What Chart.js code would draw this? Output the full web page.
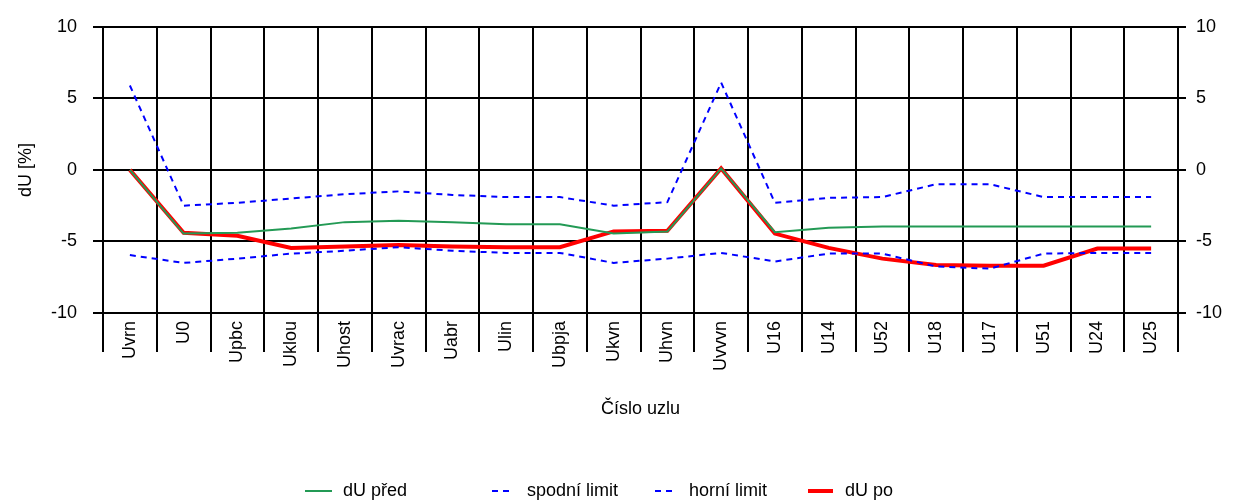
<!DOCTYPE html>
<html><head><meta charset="utf-8">
<script src="https://cdn.jsdelivr.net/npm/chart.js@4/dist/chart.umd.min.js"></script>
<style>html,body{margin:0;padding:0;background:#fff;overflow:hidden}#wrap{width:1236px;height:502px}</style>
</head><body><div id="wrap"><canvas id="c" width="1236" height="502"></canvas></div>
<script>
const categories = ["Uvrn","U0","Upbc","Uklou","Uhost","Uvrac","Uabr","Ulin","Ubpja","Ukvn","Uhvn","Uvvvn","U16","U14","U52","U18","U17","U51","U24","U25"];
const duPred = [0,-4.45,-4.4,-4.1,-3.65,-3.55,-3.65,-3.8,-3.8,-4.45,-4.3,0.1,-4.35,-4.05,-3.95,-3.95,-3.95,-3.95,-3.95,-3.95];
const spodniLimit = [-5.95,-6.5,-6.2,-5.85,-5.65,-5.4,-5.65,-5.8,-5.8,-6.5,-6.2,-5.8,-6.4,-5.85,-5.85,-6.75,-6.9,-5.85,-5.8,-5.8];
const horniLimit = [5.9,-2.5,-2.3,-2.0,-1.7,-1.5,-1.75,-1.9,-1.9,-2.5,-2.25,6.1,-2.3,-1.95,-1.9,-1.0,-1.0,-1.9,-1.9,-1.9];
const duPo = [0,-4.4,-4.6,-5.45,-5.35,-5.25,-5.35,-5.4,-5.4,-4.3,-4.25,0.1,-4.45,-5.45,-6.2,-6.65,-6.7,-6.7,-5.5,-5.5];
const yTicks = [-10,-5,0,5,10];
const seriesLabels = ["dU před","spodní limit","horní limit","dU po"];

const FONT = {family:"'Liberation Sans', Arial, sans-serif", size:18};

const legendPos = [
  {x1:305, x2:332, tx:343},
  {x1:492, x2:512, tx:527},
  {x1:655, x2:674, tx:689},
  {x1:808, x2:833, tx:845}
];
const customLegend = {
  id:'customLegend',
  afterDraw(chart){
    const ctx = chart.ctx;
    const y = 491;
    ctx.save();
    ctx.font = FONT.size + "px " + FONT.family;
    ctx.textBaseline = 'middle';
    ctx.fillStyle = '#000';
    chart.data.datasets.forEach((ds,i)=>{
      const p = legendPos[i];
      ctx.beginPath();
      ctx.strokeStyle = ds.borderColor;
      ctx.lineWidth = ds.borderWidth;
      ctx.setLineDash(ds.borderDash ? [6,5] : []);
      ctx.moveTo(p.x1, y); ctx.lineTo(p.x2, y); ctx.stroke();
      ctx.setLineDash([]);
      ctx.fillText(ds.label, p.tx, y);
    });
    ctx.restore();
  }
};

const tickSetter = s => { s.ticks = yTicks.map(v=>({value:v})); };

new Chart(document.getElementById('c'), {
  type:'line',
  data:{
    labels:categories,
    datasets:[
      {label:seriesLabels[0], data:duPred, borderColor:'#239a55', borderWidth:2, pointRadius:0, tension:0, yAxisID:'y'},
      {label:seriesLabels[1], data:spodniLimit, borderColor:'#0000ff', borderWidth:2, borderDash:[6,5], pointRadius:0, tension:0, yAxisID:'y'},
      {label:seriesLabels[2], data:horniLimit, borderColor:'#0000ff', borderWidth:2, borderDash:[6,5], pointRadius:0, tension:0, yAxisID:'y'},
      {label:seriesLabels[3], data:duPo, borderColor:'#ff0000', borderWidth:4, pointRadius:0, tension:0, yAxisID:'y'}
    ]
  },
  options:{
    responsive:false, animation:false, devicePixelRatio:1,
    layout:{padding:{top:23,left:0,right:0,bottom:0}},
    plugins:{legend:{display:false}, tooltip:{enabled:false}},
    scales:{
      x:{
        offset:true,
        grid:{offset:true, color:'#000', lineWidth:2, tickLength:39},
        border:{color:'#000', width:2},
        ticks:{autoSkip:false, maxRotation:90, minRotation:90, padding:-31, color:'#000', font:FONT},
        title:{display:true, text:'Číslo uzlu', color:'#000', font:FONT, padding:{top:0,bottom:82}},
        afterFit(s){ s.height = 189; }
      },
      y:{
        position:'left', min:-10, max:10,
        afterBuildTicks:tickSetter,
        grid:{color:'#000', lineWidth:2, tickLength:10},
        border:{color:'#000', width:2},
        ticks:{padding:16, color:'#000', font:FONT},
        title:{display:true, text:'dU [%]', color:'#000', font:FONT, padding:{top:15,bottom:0}},
        afterFit(s){ s.width = 103; }
      },
      y2:{
        position:'right', min:-10, max:10,
        afterBuildTicks:tickSetter,
        grid:{drawOnChartArea:false, color:'#000', lineWidth:2, tickLength:8},
        border:{color:'#000', width:2},
        ticks:{padding:10, color:'#000', font:FONT},
        afterFit(s){ s.width = 58; }
      }
    }
  },
  plugins:[customLegend]
});
</script>
</body></html>
